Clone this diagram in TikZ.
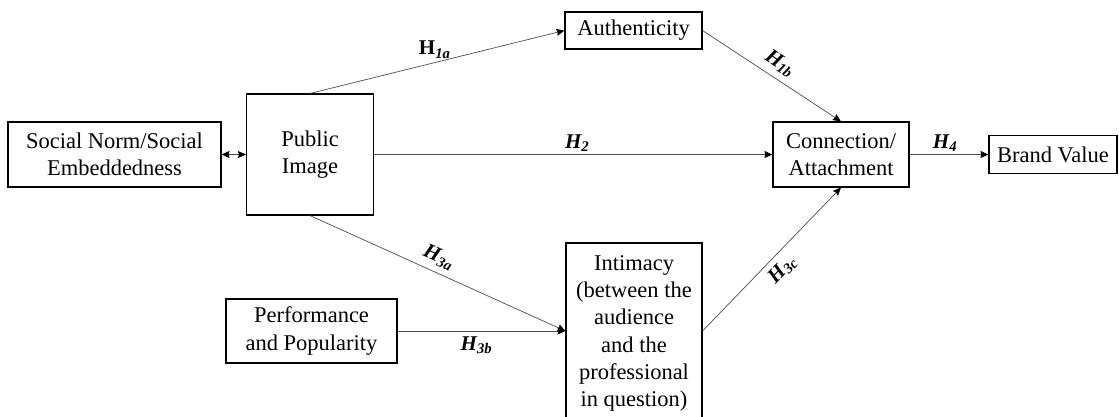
\documentclass[tikz,border=0pt]{standalone}
\usepackage{fontspec}
\setmainfont{Liberation Serif}
\usetikzlibrary{arrows.meta}
\begin{document}
\begin{tikzpicture}[x=1pt,y=-1pt,
  box/.style={draw, line width=1.1pt, inner sep=0pt, align=center,
    font=\fontsize{22.5}{27.3}\selectfont},
  tip/.tip={Stealth[length=8pt,width=7pt,inset=1pt,black]},
  conn/.style={line width=0.7pt, draw=black!70, -tip},
  lbl/.style={font=\fontsize{21}{24}\selectfont\bfseries\itshape, inner sep=1pt}]
\useasboundingbox (0,0) rectangle (1119,416);
\node[box, minimum width=213pt, minimum height=65pt] (social) at (114.5,154.5) {Social Norm/Social\\Embeddedness};
\node[box, minimum width=127pt, minimum height=121pt] (public) at (310,154.5) {Public\\Image};
\node[box, minimum width=137pt, minimum height=37pt] (auth) at (633.5,30.5) {Authenticity};
\node[box, minimum width=136pt, minimum height=65pt] (conn) at (841,154.5) {Connection/\\Attachment};
\node[box, minimum width=128pt, minimum height=38pt] (brand) at (1053,154.5) {Brand Value};
\node[box, minimum width=171pt, minimum height=64pt] (perf) at (311.5,331) {Performance\\and Popularity};
\node[box, minimum width=136pt, minimum height=181pt] (intim) at (634,333.5) {Intimacy\\(between the\\audience\\and the\\professional\\in question)};
\coordinate (intimin) at (intim.west |- perf.east);
\draw[line width=0.7pt, draw=black!70, tip-tip] (social.east) -- (public.west);
\draw[conn] (public.north) -- (auth.west) node[lbl, pos=0.49, above=3pt] {\upshape H\textsubscript{\itshape 1a}};
\draw[conn] (auth.east) -- (conn.north) node[lbl, pos=0.5, above=5pt, sloped] {H\textsubscript{1b}};
\draw[conn] (public.east) -- (conn.west) node[lbl, pos=0.51, above=2pt] {H\textsubscript{2}};
\draw[conn] (public.south) -- (intimin) node[lbl, pos=0.48, above=5pt, sloped] {H\textsubscript{3a}};
\draw[conn] (perf.east) -- (intimin) node[lbl, pos=0.47, below=4pt] {H\textsubscript{3b}};
\draw[conn] (intimin -| intim.east) -- (conn.south) node[lbl, pos=0.5, below=5pt, sloped] {H\textsubscript{3c}};
\draw[conn] (conn.east) -- (brand.west) node[lbl, pos=0.45, above=2pt] {H\textsubscript{4}};
\end{tikzpicture}
\end{document}
